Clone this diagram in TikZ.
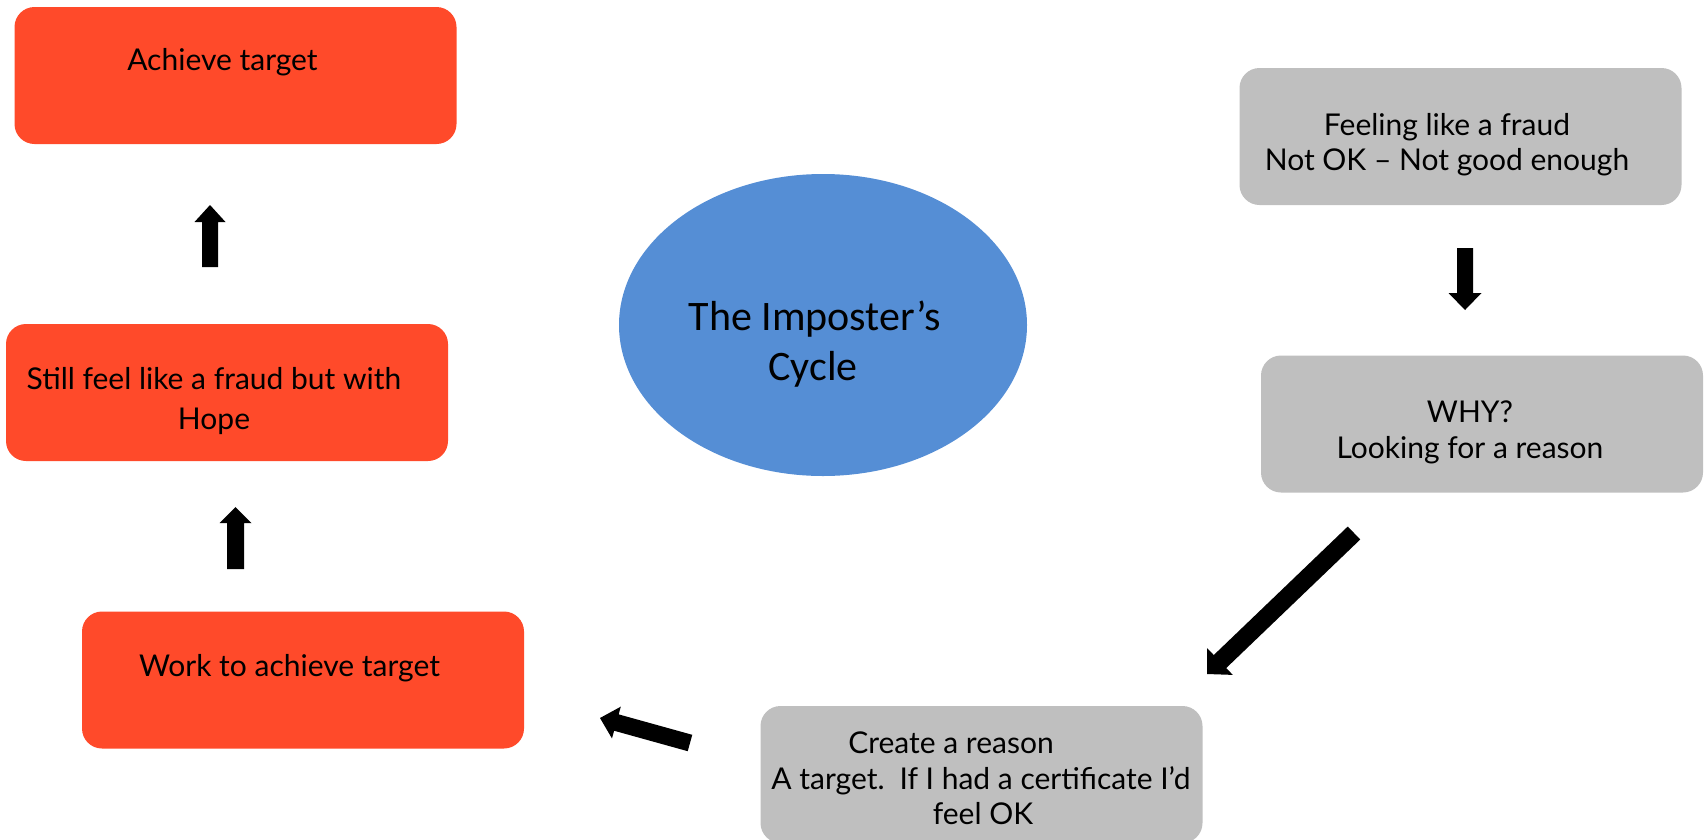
\documentclass[tikz,border=0pt]{standalone}
\usepackage{fontspec}
\setmainfont{Lato}
\newfontfamily\ringfont{Carlito}
\usetikzlibrary{calc,shapes.geometric}

\definecolor{redbox}{HTML}{FF4A2A}
\definecolor{greybox}{HTML}{BFBFBF}
\definecolor{blueell}{HTML}{558ED5}

\tikzset{
  card/.style={rounded corners=20pt, minimum width=442pt, minimum height=137pt,
               inner sep=0pt, draw=none},
  redcard/.style={card, fill=redbox},
  greycard/.style={card, fill=greybox},
  cardtext/.style={anchor=base, inner sep=0pt, text=black,
                   font=\fontsize{30}{36}\selectfont},
  ringtext/.style={anchor=base, inner sep=0pt, text=black,
                   font=\ringfont\fontsize{42}{50}\selectfont},
}

% Filled block arrow: #1 tail, #2 tip, #3 shaft half width,
% #4 head half width, #5 head length
\newcommand\blockarrow[5]{%
  \coordinate (hb) at ($(#2)!#5!(#1)$);
  \fill[black] ($(#1)!#3!90:(#2)$) -- ($(hb)!#3!90:(#2)$) -- ($(hb)!#4!90:(#2)$)
    -- (#2) -- ($(hb)!#4!-90:(#2)$) -- ($(hb)!#3!-90:(#2)$)
    -- ($(#1)!#3!-90:(#2)$) -- cycle;
}

\begin{document}
\begin{tikzpicture}[x=1pt,y=-1pt]
  \useasboundingbox (0,0) rectangle (1708,839);
  \clip (0,0) rectangle (1708,839);

  % boxes
  \node[redcard]  (ach)    at (235.5,75.5)  {};
  \node[redcard]  (still)  at (227,392.5)   {};
  \node[redcard]  (work)   at (303,680)     {};
  \node[greycard] (feel)   at (1460.5,136.5) {};
  \node[greycard] (why)    at (1482,424)    {};
  \node[greycard] (create) at (981.5,774.5) {};

  % centre ellipse
  \node[ellipse, fill=blueell, draw=none, minimum width=408pt, minimum height=302pt,
        inner sep=0pt] (cycle) at (823,325) {};

  % texts
  \node[cardtext] (ach-t)    at (222.5,70) {Achieve target};
  \node[cardtext] (still-t1) at (214,389)  {Still feel like a fraud but with};
  \node[cardtext] (still-t2) at (214,429)  {Hope};
  \node[cardtext] (work-t)   at (289.5,676) {Work to achieve target};
  \node[cardtext] (feel-t1)  at (1447,135) {Feeling like a fraud};
  \node[cardtext] (feel-t2)  at (1447,170) {Not OK – Not good enough};
  \node[cardtext] (why-t1)   at (1470,422) {WHY?};
  \node[cardtext] (why-t2)   at (1470,458) {Looking for a reason};
  \node[cardtext] (create-t1) at (951,753) {Create a reason};
  \node[cardtext] (create-t2) at (981,789) {A target.\enspace If I had a certificate I’d};
  \node[cardtext] (create-t3) at (983,824) {feel OK};
  \node[ringtext] (cycle-t1) at (815,330) {The Imposter’s};
  \node[ringtext] (cycle-t2) at (813,380) {Cycle};

  % arrow end points
  \coordinate (a1s) at (210,267);    \coordinate (a1e) at (210,205);
  \coordinate (a2s) at (235.5,569);  \coordinate (a2e) at (235.5,507);
  \coordinate (a3s) at (1465,248);   \coordinate (a3e) at (1465,310);
  \coordinate (a4s) at (1354,533);   \coordinate (a4e) at (1207,674);
  \coordinate (a5s) at (690,743);    \coordinate (a5e) at (600,718);

  \blockarrow{a1s}{a1e}{8pt}{15.5pt}{17pt}
  \blockarrow{a2s}{a2e}{8.5pt}{16pt}{16pt}
  \blockarrow{a3s}{a3e}{8pt}{16.5pt}{17pt}
  \blockarrow{a4s}{a4e}{9pt}{18.5pt}{18pt}
  \blockarrow{a5s}{a5e}{8.5pt}{16.5pt}{17pt}
\end{tikzpicture}
\end{document}
